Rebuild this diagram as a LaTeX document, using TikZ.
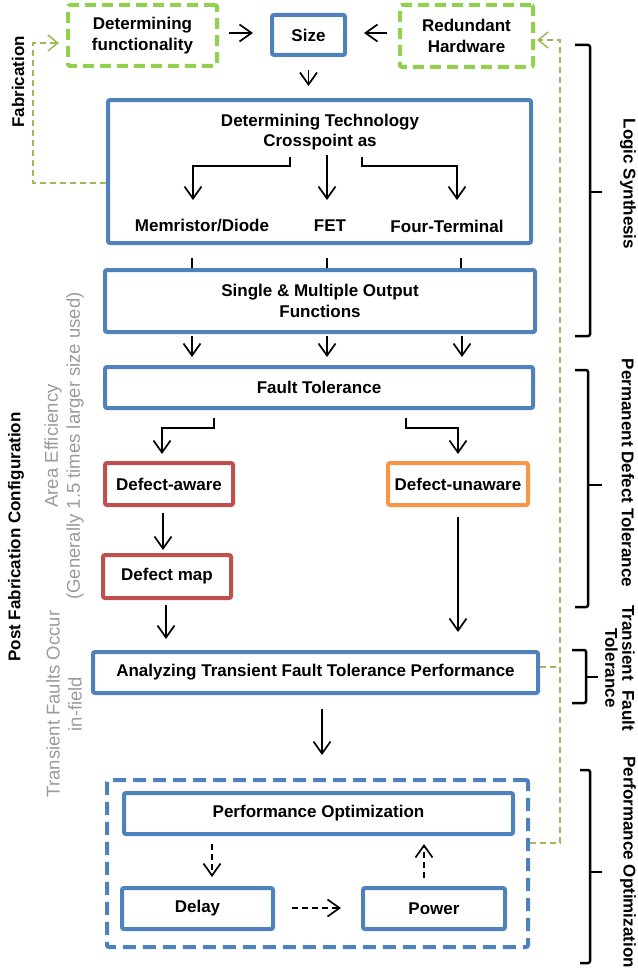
\documentclass[tikz,border=0pt]{standalone}
\usepackage{fontspec}
\setmainfont{Liberation Sans}
\usetikzlibrary{arrows.meta}
\definecolor{bblue}{HTML}{4F81BD}
\definecolor{bred}{HTML}{C0504D}
\definecolor{borange}{HTML}{F79646}
\definecolor{bgreen}{HTML}{92D050}
\definecolor{lgreen}{HTML}{9BBB59}
\definecolor{tgray}{HTML}{9A9A9A}
\newcommand\fsz{\fontsize{17}{20.5}\selectfont}
\newcommand\gsz{\fontsize{18.5}{22}\selectfont}
\tikzset{
  box/.style={draw=bblue, line width=4pt, rounded corners=2pt, inner sep=0pt, align=center, font=\bfseries\fsz},
  gbox/.style={box, draw=bgreen, dash pattern=on 11pt off 6pt},
  rbox/.style={box, draw=bred},
  obox/.style={box, draw=borange},
  dbox/.style={box, dash pattern=on 13pt off 7pt},
  lbl/.style={inner sep=0pt, align=center, font=\bfseries\fsz},
  glbl/.style={inner sep=0pt, align=center, font=\gsz, text=tgray},
  arr/.style={-{Straight Barb[length=12pt,width=17pt]}, line width=1.7pt},
  darr/.style={arr, dash pattern=on 6pt off 4pt},
  gline/.style={draw=lgreen, line width=1.5pt, dash pattern=on 6pt off 4pt},
  garr/.style={gline, -{Straight Barb[length=10pt,width=16pt]}},
  brk/.style={line width=2.5pt, rounded corners=2pt},
}
\begin{document}
\begin{tikzpicture}[x=1pt,y=-1pt]
\useasboundingbox (0,0) rectangle (637,974);
% top row
\node[gbox, minimum width=149pt, minimum height=61pt] (func) at (142.5,35.5) {Determining\\functionality};
\node[box, minimum width=73pt, minimum height=40pt] (size) at (308.5,35) {Size};
\node[gbox, minimum width=133pt, minimum height=62pt] (redund) at (466.5,36) {Redundant\\Hardware};
% technology box
\node[box, minimum width=423pt, minimum height=143pt] (tech) at (319.5,171.5) {};
\node[lbl] (techtitle) at (320,132) {Determining Technology\\Crosspoint as};
\node[lbl] (mem) at (202,226) {Memristor/Diode};
\node[lbl] (fet) at (330,226) {FET};
\node[lbl] (four) at (447,226) {Four-Terminal};
% other boxes
\node[box, minimum width=430pt, minimum height=62pt] (single) at (320,301) {Single \& Multiple Output\\Functions};
\node[box, minimum width=428pt, minimum height=41pt] (fault) at (319,387.5) {Fault Tolerance};
\node[rbox, minimum width=128pt, minimum height=42pt] (aware) at (169,484) {Defect-aware};
\node[obox, minimum width=140pt, minimum height=42pt] (unaware) at (458,484) {Defect-unaware};
\node[rbox, minimum width=128pt, minimum height=43pt] (dmap) at (167,576.5) {Defect map};
\node[box, minimum width=445pt, minimum height=41pt] (analyze) at (315.5,672.5) {Analyzing Transient Fault Tolerance Performance};
\node[dbox, minimum width=421pt, minimum height=167pt] (perfouter) at (317.5,863.5) {};
\node[box, minimum width=389pt, minimum height=41pt] (perf) at (318.5,813.5) {Performance Optimization};
\node[box, minimum width=151pt, minimum height=41pt] (delay) at (197.5,908.5) {Delay};
\node[box, minimum width=142pt, minimum height=41pt] (power) at (434,908.5) {Power};
% top arrows
\draw[arr, shorten <=10pt, shorten >=17pt] (func.east |- 0,33) -- (size.west |- 0,33);
\draw[arr, shorten <=11pt, shorten >=17pt] (redund.west |- 0,33) -- (size.east |- 0,33);
\draw[arr, shorten <=13pt, shorten >=12pt] (size.south) -- (size.south |- tech.north);
% technology inner arrows
\coordinate (tl0) at (290,157); \coordinate (tl1) at (193,166); \coordinate (tl2) at (193,200);
\coordinate (tc0) at (327,155); \coordinate (tc1) at (327,200);
\coordinate (tr0) at (362,157); \coordinate (tr1) at (457,166); \coordinate (tr2) at (457,200);
\draw[arr] (tl0) |- (tl1) -- (tl2);
\draw[arr] (tc0) -- (tc1);
\draw[arr] (tr0) |- (tr1) -- (tr2);
% ticks between tech and single
\foreach \xx/\nm in {192/a,327/b,461/c}{
  \coordinate (tk\nm) at (\xx,258);
  \draw[line width=1.7pt] (tk\nm) -- (tk\nm |- single.north);
}
% arrows below single
\foreach \xx/\nm in {192/a,327/b,462/c}{
  \coordinate (sa\nm) at (\xx,336);
  \coordinate (sb\nm) at (\xx,357);
  \draw[arr] (sa\nm) -- (sb\nm);
}
% fault tolerance arrows
\coordinate (fl0) at (214,418); \coordinate (fl1) at (162,428); \coordinate (fl2) at (162,454);
\coordinate (fr0) at (406,418); \coordinate (fr1) at (458,428); \coordinate (fr2) at (458,454);
\draw[arr] (fl0) |- (fl1) -- (fl2);
\draw[arr] (fr0) |- (fr1) -- (fr2);
% defect chain
\coordinate (a0) at (163,513); \coordinate (a1) at (163,550);
\draw[arr] (a0) -- (a1);
\coordinate (m0) at (166,605); \coordinate (m1) at (166,639);
\draw[arr] (m0) -- (m1);
\coordinate (u0) at (458,517); \coordinate (u1) at (458,632);
\draw[arr] (u0) -- (u1);
\coordinate (an0) at (322,709); \coordinate (an1) at (322,755);
\draw[arr] (an0) -- (an1);
% performance loop
\coordinate (p0) at (212,844); \coordinate (p1) at (212,877);
\draw[darr] (p0) -- (p1);
\coordinate (d0) at (292,908); \coordinate (d1) at (341,908);
\draw[darr] (d0) -- (d1);
\coordinate (w0) at (424,878); \coordinate (w1) at (424,844);
\draw[darr] (w0) -- (w1);
% green feedback lines
\coordinate (gl0) at (33,183); \coordinate (gl1) at (33,43); \coordinate (gl2) at (59,43);
\draw[garr] (tech.west |- 0,183) -- (gl0) -- (gl1) -- (gl2);
\coordinate (gr0) at (560,667); \coordinate (gr1) at (560,843); \coordinate (gr2) at (560,40); \coordinate (gr3) at (537,40);
\draw[gline] (analyze.east |- gr0) -- (gr0);
\draw[garr] (perfouter.east |- gr1) -- (gr1) -- (gr2) -- (gr3);
% brackets
\draw[brk] (575,45) -- (590,45) -- (590,336) -- (575,336);
\draw[brk] (590,192) -- (602,192);
\draw[brk] (575,370) -- (588,370) -- (588,607) -- (575,607);
\draw[brk] (588,485) -- (602,485);
\draw[brk] (572,650) -- (586,650) -- (586,703) -- (572,703);
\draw[brk] (586,677) -- (598,677);
\draw[brk] (580,770) -- (590,770) -- (590,963) -- (580,963);
\draw[brk] (590,872) -- (602,872);
% right labels
\node[lbl, rotate=-90] (ls) at (628,184) {Logic Synthesis};
\node[lbl, rotate=-90] (pdt) at (628,473) {Permanent Defect Tolerance};
\node[lbl, rotate=-90, font=\bfseries\fontsize{17}{17}\selectfont] (tft) at (620,668) {Transient\ \ Fault\\Tolerance};
\node[lbl, rotate=-90] (po) at (628,862) {Performance Optimization};
% left labels
\node[lbl, rotate=90] (fab) at (18,82) {Fabrication};
\node[lbl, rotate=90] (pfc) at (16,537) {Post Fabrication Configuration};
\node[glbl, rotate=90] (ae) at (64,446) {Area Efficiency\\(Generally 1.5 times larger size used)};
\node[glbl, rotate=90] (tfo) at (64,704) {Transient Faults Occur\\in-field};
\end{tikzpicture}
\end{document}
